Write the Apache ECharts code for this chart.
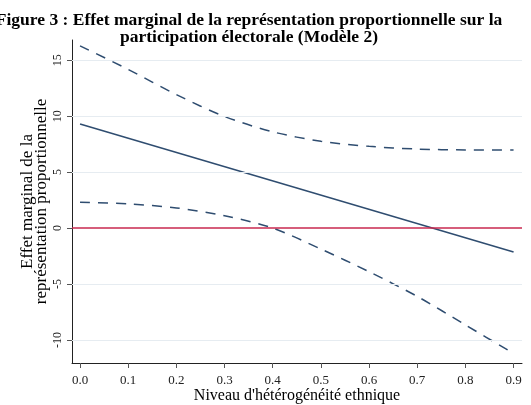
<!DOCTYPE html>
<html>
<head>
<meta charset="utf-8">
<script src="https://cdn.jsdelivr.net/npm/echarts@6/dist/echarts.min.js"></script>
<style>
  html, body { margin: 0; padding: 0; background: #fff; }
  #chart { width: 531px; height: 405px; }
</style>
</head>
<body>
<div id="chart"></div>
<script>
  // niveau d'hétérogénéité ethnique
  var levels = [0, 0.1, 0.2, 0.3, 0.4, 0.5, 0.6, 0.7, 0.8, 0.9]
  var upperCI = [16.28, 14.17, 11.92, 9.97, 8.6, 7.75, 7.3, 7.06, 6.98, 6.97]
  var lowerCI = [2.31, 2.16, 1.8, 1.1, 0.0, -1.87, -3.9, -6.1, -8.65, -11.2]
  // effet marginal (droite)
  var effectX = [0, 0.9]
  var effect = [9.3, -2.13]

  var xTicks = [0, 0.1, 0.2, 0.3, 0.4, 0.5, 0.6, 0.7, 0.8, 0.9]
  var yTicks = [-10, -5, 0, 5, 10, 15]
  var gridValues = [-10, -5, 5, 10, 15]

  var serif = 'Liberation Serif'
  var navy = '#2f4d70'

  var pairs = function (xs, ys) {
    return xs.map(function (x, i) { return [x, ys[i]] })
  }

  var myChart = echarts.init(document.getElementById('chart'))

  var option = {
    animation: false,
    backgroundColor: '#fff',
    title: {
      text: 'Figure 3 : Effet marginal de la représentation proportionnelle sur la\nparticipation électorale (Modèle 2)',
      left: 244,
      top: 7,
      textAlign: 'center',
      textStyle: {
        fontFamily: serif,
        fontWeight: 'bold',
        fontSize: 17.5,
        lineHeight: 17,
        color: '#000'
      }
    },
    grid: {
      left: 72,
      right: 9,
      top: 40,
      bottom: 42,
      outerBoundsMode: 'none'
    },
    xAxis: {
      type: 'value',
      min: -0.0167,
      max: 0.9175,
      name: "Niveau d'hétérogénéité ethnique",
      nameLocation: 'middle',
      nameGap: 25,
      nameMoveOverlap: false,
      nameTextStyle: { fontFamily: serif, fontSize: 16, color: '#000' },
      axisLine: { show: true, onZero: false, lineStyle: { color: '#222', width: 1 } },
      axisTick: {
        show: true,
        length: 5,
        customValues: xTicks,
        lineStyle: { color: '#555' }
      },
      axisLabel: {
        customValues: xTicks,
        margin: 11,
        fontFamily: serif,
        fontSize: 13,
        color: '#222',
        formatter: function (v) { return v.toFixed(1) }
      },
      splitLine: { show: false }
    },
    yAxis: {
      type: 'value',
      min: -12.05,
      max: 16.8,
      name: 'Effet marginal de la\nreprésentation proportionnelle',
      nameLocation: 'middle',
      nameGap: 23,
      nameMoveOverlap: false,
      nameTextStyle: { fontFamily: serif, fontSize: 17, lineHeight: 14, color: '#000' },
      axisLine: { show: true, onZero: false, lineStyle: { color: '#222', width: 1 } },
      axisTick: {
        show: true,
        length: 5,
        customValues: yTicks,
        lineStyle: { color: '#555' }
      },
      axisLabel: {
        customValues: yTicks,
        rotate: 90,
        margin: 8,
        fontFamily: serif,
        fontSize: 12,
        color: '#222'
      },
      splitLine: { show: false }
    },
    series: [
      {
        name: 'grille',
        type: 'line',
        data: [],
        z: 1,
        silent: true,
        markLine: {
          silent: true,
          symbol: 'none',
          label: { show: false },
          lineStyle: { color: '#e6ecf1', width: 1, type: 'solid' },
          data: gridValues.map(function (v) { return { yAxis: v } })
        }
      },
      {
        name: 'zero',
        type: 'line',
        data: [],
        z: 2,
        silent: true,
        markLine: {
          silent: true,
          symbol: 'none',
          label: { show: false },
          lineStyle: { color: '#c8284f', width: 1.6, type: 'solid' },
          data: [{ yAxis: 0 }]
        }
      },
      {
        name: 'upper',
        type: 'line',
        z: 3,
        smooth: 0.3,
        showSymbol: false,
        lineStyle: { color: navy, width: 1.5, type: [10, 8] },
        data: pairs(levels, upperCI)
      },
      {
        name: 'lower',
        type: 'line',
        z: 3,
        smooth: 0.3,
        showSymbol: false,
        lineStyle: { color: navy, width: 1.5, type: [10, 8] },
        data: pairs(levels, lowerCI)
      },
      {
        name: 'effect',
        type: 'line',
        z: 3,
        showSymbol: false,
        lineStyle: { color: navy, width: 1.5 },
        data: pairs(effectX, effect)
      }
    ]
  }

  myChart.setOption(option)
</script>
</body>
</html>
